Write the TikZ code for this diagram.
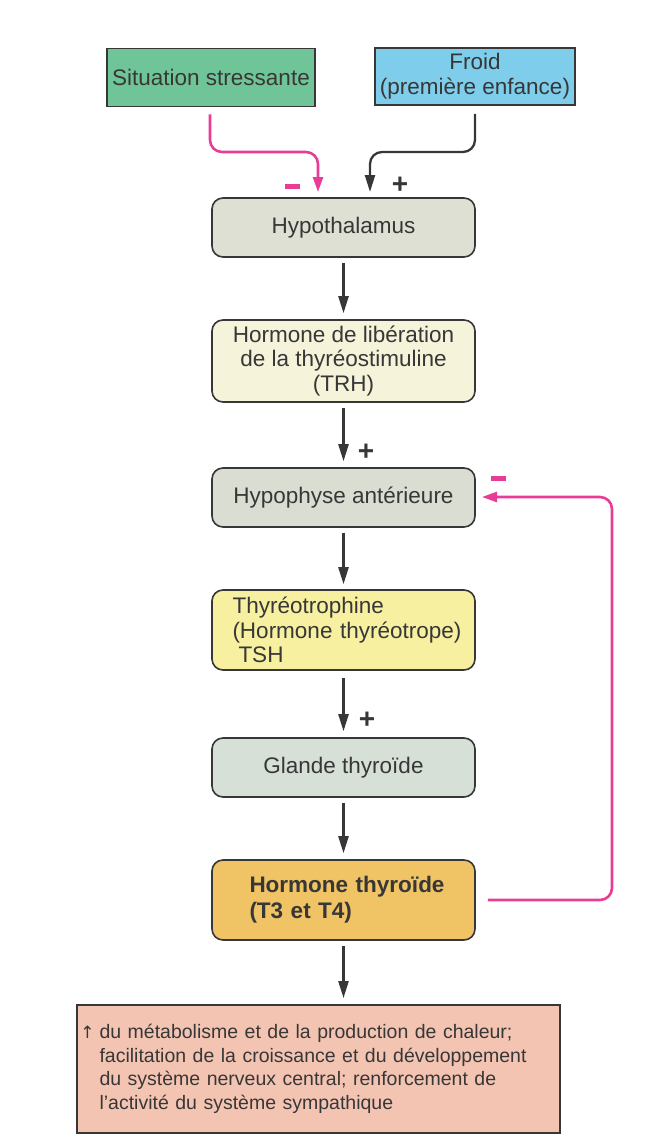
\documentclass[tikz,border=0pt]{standalone}
\usepackage{fontspec}
\setmainfont{Liberation Sans}
\newfontfamily\symfont{DejaVu Sans}
\usetikzlibrary{arrows.meta,calc}
\definecolor{cgreen}{RGB}{111,196,152}
\definecolor{cblue}{RGB}{125,205,235}
\definecolor{chypo}{RGB}{223,224,212}
\definecolor{ctrh}{RGB}{245,243,218}
\definecolor{cpit}{RGB}{218,221,210}
\definecolor{ctsh}{RGB}{246,240,160}
\definecolor{cgland}{RGB}{214,224,214}
\definecolor{chorm}{RGB}{240,195,100}
\definecolor{cout}{RGB}{244,196,178}
\definecolor{cpink}{RGB}{232,60,150}
\definecolor{cdark}{RGB}{55,55,55}
\tikzset{
  srcbox/.style={draw=cdark, line width=1.8pt, minimum height=58pt, inner sep=0pt, align=center,
     font=\fontsize{22.5}{25}\selectfont, text=cdark},
  flowbox/.style={draw=cdark, line width=1.6pt, rounded corners=11pt, minimum width=263pt, inner sep=0pt,
     align=center, font=\fontsize{22.5}{24.5}\selectfont, text=cdark},
  darr/.style={draw=cdark, line width=2.3pt, -{Triangle[length=17pt,width=10pt]}},
  parr/.style={draw=cpink, line width=2.6pt, -{Triangle[length=15pt,width=10pt]}, rounded corners=12pt},
  plus/.style={font=\fontsize{28}{28}\bfseries\selectfont, text=cdark, inner sep=0pt},
  minus/.style={fill=cpink, minimum width=15pt, minimum height=5pt, inner sep=0pt}
}
\begin{document}
\begin{tikzpicture}[x=1pt,y=-1pt]
\useasboundingbox (0,0) rectangle (668,1144);
\node[srcbox, fill=cgreen, minimum width=208pt] (sit) at (211,77.5) {Situation stressante};
\node[srcbox, fill=cblue, minimum width=200pt, minimum height=57pt] (froid) at (475,76.5) {Froid\\(première enfance)};
\node[flowbox, fill=chypo, minimum height=59pt] (hypo) at (343.5,227.5) {Hypothalamus};
\node[flowbox, fill=ctrh, minimum height=82pt] (trh) at (343.5,361) {Hormone de libération\\de la thyréostimuline\\(TRH)};
\node[flowbox, fill=cpit, minimum height=59pt] (pit) at (343.5,497.5) {Hypophyse antérieure};
\node[flowbox, fill=ctsh, minimum height=80pt, text width=242pt, inner xsep=0pt, align=left] (tsh) at (343.5,630) {\hspace*{10pt}Thyréotrophine\\\hspace*{10pt}(Hormone thyréotrope)\\\hspace*{16pt}TSH};
\node[flowbox, fill=cgland, minimum height=59pt] (gland) at (343.5,767.5) {Glande thyroïde};
\node[flowbox, fill=chorm, minimum height=80pt, text width=226pt, align=left, font=\fontsize{22.5}{26}\bfseries\selectfont] (horm) at (343.5,900) {\hspace*{19pt}Hormone thyroïde\\\hspace*{19pt}(T3 et T4)};
\node[draw=cdark, line width=1.8pt, fill=cout, minimum width=483pt, minimum height=128pt, text width=460pt, inner sep=0pt, align=left, text=cdark, font=\fontsize{19.5}{23.5}\selectfont] (out) at (318.5,1069) {\hspace*{11pt}\llap{{\symfont\fontsize{17}{17}\selectfont ↑}\hspace{5pt}}du métabolisme et de la production de chaleur;\\\hspace*{11pt}facilitation de la croissance et du développement\\\hspace*{11pt}du système nerveux central; renforcement de\\\hspace*{11pt}l'activité du système sympathique};
% top arrows
\coordinate (pinkend) at (318,192);
\coordinate (darkend) at (370,192);
\draw[parr] ([yshift=-7pt]sit.south -| 210,0) |- (260,152) -| (pinkend);
\draw[darr, rounded corners=12pt] ([yshift=-8pt]froid.south) |- (420,152) -| (darkend);
\node[minus] (m1) at (292,186) {};
\node[plus] (p1) at (400,185) {+};
% vertical arrows
\draw[darr] ([yshift=-5pt]hypo.south) -- ([yshift=6pt]trh.north);
\draw[darr] ([yshift=-5pt]trh.south) -- ([yshift=6pt]pit.north);
\node[plus] (p2) at (366,452) {+};
\draw[darr] ([yshift=-5pt]pit.south) -- ([yshift=5pt]tsh.north);
\draw[darr] ([yshift=-7pt]tsh.south) -- ([yshift=6pt]gland.north);
\node[plus] (p3) at (367,720) {+};
\draw[darr] ([yshift=-5pt]gland.south) -- ([yshift=6pt]horm.north);
\draw[darr] ([yshift=-5pt]horm.south) -- ([yshift=6pt]horm.south |- out.north);
% feedback
\coordinate (fbend) at (482,497);
\draw[parr] ([xshift=12pt]horm.east) -| (612,700) |- (fbend);
\node[minus] (m2) at (498,478) {};
\end{tikzpicture}
\end{document}
